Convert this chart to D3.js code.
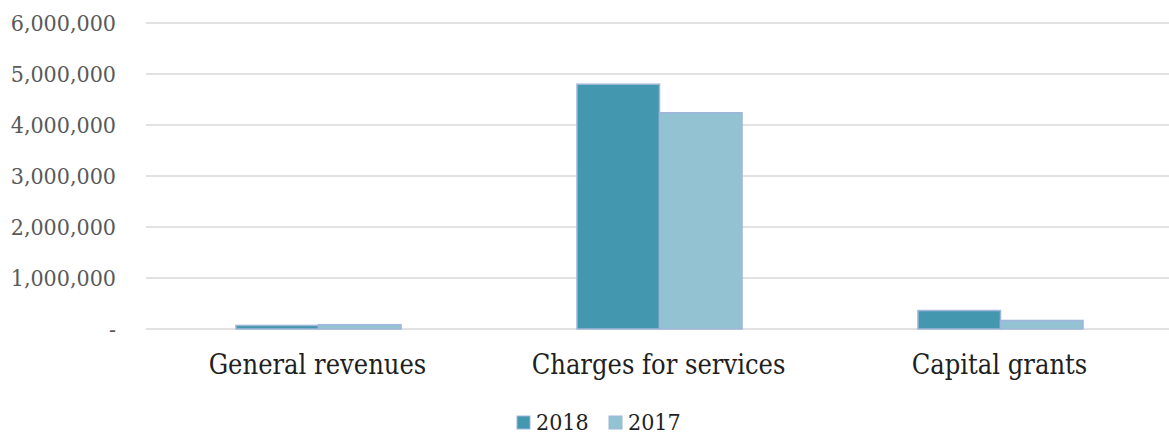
<!DOCTYPE html>
<html>
<head>
<meta charset="utf-8">
<script src="https://cdn.jsdelivr.net/npm/d3@7"></script>
<style>
  body { margin: 0; background: #fff; }
  text { font-family: "DejaVu Serif Condensed", "DejaVu Serif", serif; font-stretch: condensed; }
</style>
</head>
<body>
<div id="chart"></div>
<script>
// chart data
var categories = ["General revenues", "Charges for services", "Capital grants"];
var seriesNames = ["2018", "2017"];
var values2018 = [70000, 4800000, 362000];
var values2017 = [85000, 4240000, 167000];
var yTicks = [0, 1000000, 2000000, 3000000, 4000000, 5000000, 6000000];

var colors = { "2018": "#4397ae", "2017": "#93c2d3" };

var W = 1169, H = 434;
var margin = { top: 23, right: 0, bottom: 105, left: 146 };
var width = W - margin.left - margin.right,
    height = H - margin.top - margin.bottom;

var svg = d3.select("#chart").append("svg")
    .attr("width", W).attr("height", H);

var g = svg.append("g")
    .attr("transform", "translate(" + margin.left + "," + margin.top + ")");

var x = d3.scaleBand().domain(categories).range([0, width]);
var barW = x.bandwidth() * 0.242;
var x1 = d3.scaleBand().domain(seriesNames)
    .range([x.bandwidth() / 2 - barW + 2, x.bandwidth() / 2 + barW + 2]);

var y = d3.scaleLinear().domain([0, 6000000]).range([height, 0]);

// gridlines
g.selectAll(".grid").data(yTicks).enter().append("line")
    .attr("x1", 0).attr("x2", width)
    .attr("y1", function (d) { return y(d); })
    .attr("y2", function (d) { return y(d); })
    .style("stroke", "#d9d9d9").style("stroke-width", 1.3);

// y labels
var fmt = d3.format(",");
g.selectAll(".ylab").data(yTicks).enter().append("text")
    .attr("x", -30)
    .attr("y", function (d) { return y(d); })
    .attr("dy", "0.36em")
    .style("text-anchor", "end")
    .style("font-size", "23px")
    .style("fill", "#595959")
    .text(function (d) { return d === 0 ? "-" : fmt(d); });

// bars
var rows = categories.map(function (c, i) {
    return { cat: c, vals: [{ s: "2018", v: values2018[i] }, { s: "2017", v: values2017[i] }] };
});

var groups = g.selectAll(".cat").data(rows).enter().append("g")
    .attr("transform", function (d) { return "translate(" + x(d.cat) + ",0)"; });

groups.selectAll("rect").data(function (d) { return d.vals; }).enter().append("rect")
    .attr("x", function (d) { return x1(d.s); })
    .attr("width", x1.bandwidth())
    .attr("y", function (d) { return y(d.v); })
    .attr("height", function (d) { return y(0) - y(d.v); })
    .style("fill", function (d) { return colors[d.s]; })
    .style("stroke", "#9fb6da")
    .style("stroke-width", 1.5);

// category labels
g.selectAll(".xlab").data(categories).enter().append("text")
    .attr("x", function (d) { return x(d) + x.bandwidth() / 2 + 1; })
    .attr("y", height + 45)
    .style("text-anchor", "middle")
    .style("font-size", "27px")
    .style("fill", "#1f1f1f")
    .text(function (d) { return d; });

// legend
var legend = svg.append("g").attr("transform", "translate(517,422)");
var items = legend.selectAll(".leg").data(seriesNames).enter().append("g")
    .attr("transform", function (d, i) { return "translate(" + (i * 92) + ",0)"; });
items.append("rect")
    .attr("x", 0).attr("y", -6).attr("width", 13).attr("height", 13)
    .style("fill", function (d) { return colors[d]; })
    .style("stroke", "#9fb6da").style("stroke-width", 1);
items.append("text")
    .attr("x", 19).attr("y", 8)
    .style("font-size", "23px")
    .style("fill", "#1f1f1f")
    .text(function (d) { return d; });
</script>
</body>
</html>
